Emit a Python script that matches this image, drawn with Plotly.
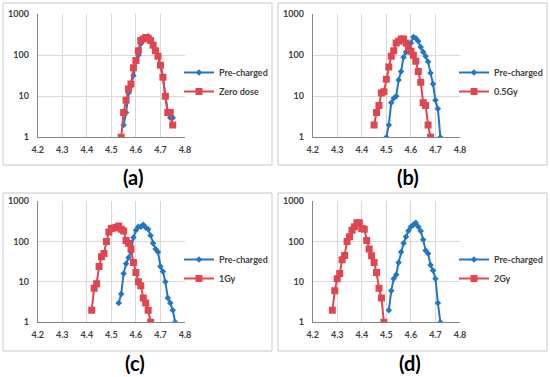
import plotly.graph_objects as go

# ---------------- data ----------------
# (a)
a_pre_x = [4.55, 4.56, 4.57, 4.58, 4.59, 4.60, 4.61, 4.62, 4.63, 4.64, 4.65, 4.66, 4.67, 4.68, 4.69, 4.70, 4.71, 4.72, 4.73, 4.74, 4.75]
a_pre_y = [2, 4, 12, 18, 32, 70, 100, 190, 240, 270, 290, 250, 180, 130, 95, 57, 30, 10, 4, 3, 3]
a_dose_x = [4.54, 4.55, 4.56, 4.57, 4.58, 4.59, 4.60, 4.61, 4.62, 4.63, 4.64, 4.65, 4.66, 4.67, 4.68, 4.69, 4.70, 4.71, 4.72, 4.73, 4.74, 4.75]
a_dose_y = [1, 4, 8, 15, 20, 50, 75, 130, 230, 250, 270, 260, 230, 175, 130, 95, 57, 29, 10, 4, 4, 2]
# (b)
b_pre_x = [4.50, 4.51, 4.52, 4.53, 4.54, 4.55, 4.56, 4.57, 4.58, 4.59, 4.60, 4.61, 4.62, 4.63, 4.64, 4.65, 4.66, 4.67, 4.68, 4.69, 4.70, 4.71, 4.72]
b_pre_y = [1, 2, 7, 9, 10, 25, 40, 90, 120, 130, 200, 280, 260, 220, 160, 120, 95, 70, 37, 20, 8, 5, 1]
b_dose_x = [4.45, 4.46, 4.47, 4.48, 4.49, 4.50, 4.51, 4.52, 4.53, 4.54, 4.55, 4.56, 4.57, 4.58, 4.59, 4.60, 4.61, 4.62, 4.63, 4.64, 4.65, 4.66, 4.67, 4.68]
b_dose_y = [2, 4, 6, 12, 13, 26, 52, 95, 130, 200, 220, 250, 250, 200, 150, 125, 100, 72, 40, 22, 7, 6, 2, 1]
# (c)
c_pre_x = [4.53, 4.54, 4.55, 4.56, 4.57, 4.58, 4.59, 4.60, 4.61, 4.62, 4.63, 4.64, 4.65, 4.66, 4.67, 4.68, 4.69, 4.70, 4.71, 4.72, 4.73, 4.74, 4.75, 4.76]
c_pre_y = [3, 5, 16, 28, 40, 55, 125, 190, 230, 230, 260, 220, 200, 140, 90, 65, 55, 24, 18, 10, 4, 3, 2, 1]
c_dose_x = [4.42, 4.43, 4.44, 4.45, 4.46, 4.47, 4.48, 4.49, 4.50, 4.51, 4.52, 4.53, 4.54, 4.55, 4.56, 4.57, 4.58, 4.59, 4.60, 4.61, 4.62, 4.63, 4.64, 4.65, 4.66]
c_dose_y = [2, 7, 9, 24, 42, 50, 100, 170, 210, 215, 220, 240, 200, 180, 105, 90, 65, 30, 17, 10, 8, 4, 3, 2, 1]
# (d)
d_pre_x = [4.51, 4.52, 4.53, 4.54, 4.55, 4.56, 4.57, 4.58, 4.59, 4.60, 4.61, 4.62, 4.63, 4.64, 4.65, 4.66, 4.67, 4.68, 4.69, 4.70, 4.71, 4.72]
d_pre_y = [2, 6, 12, 15, 30, 55, 90, 130, 185, 230, 260, 290, 230, 180, 110, 60, 50, 26, 19, 12, 3, 1]
d_dose_x = [4.28, 4.29, 4.30, 4.31, 4.32, 4.33, 4.34, 4.35, 4.36, 4.37, 4.38, 4.39, 4.40, 4.41, 4.42, 4.43, 4.44, 4.45, 4.46, 4.47, 4.48, 4.49]
d_dose_y = [2, 6, 12, 16, 35, 45, 100, 130, 190, 230, 290, 290, 210, 200, 105, 65, 44, 30, 17, 7, 4, 1]

panel_labels = ["(a)", "(b)", "(c)", "(d)"]
dose_names = ["Zero dose", "0.5Gy", "1Gy", "2Gy"]
pre_name = "Pre-charged"
x_ticks = [4.2, 4.3, 4.4, 4.5, 4.6, 4.7, 4.8]
y_ticks = [1, 10, 100, 1000]

panels = [
    (a_pre_x, a_pre_y, a_dose_x, a_dose_y),
    (b_pre_x, b_pre_y, b_dose_x, b_dose_y),
    (c_pre_x, c_pre_y, c_dose_x, c_dose_y),
    (d_pre_x, d_pre_y, d_dose_x, d_dose_y),
]

# ---------------- layout geometry ----------------
W, H = 550, 377
BLUE = "#2277C3"
RED = "#E04650"
FONT = "Lato"

x_doms = [(37.7, 185.0), (312.7, 460.0), (37.7, 185.0), (312.7, 460.0)]
y_doms = [(14.3, 137.3), (14.3, 137.3), (201.0, 322.3), (201.0, 322.3)]
boxes = [(3, 3, 272, 165), (278, 3, 547, 165), (3, 193, 272, 351), (278, 193, 547, 351)]
label_pos = [(133, 177), (408, 177), (135, 363), (410, 363)]
legend_pos = [(179, 82), (454, 82), (179, 269), (454, 269)]

fig = go.Figure()
layout = dict(
    width=W, height=H, margin=dict(l=0, r=0, t=0, b=0, autoexpand=False),
    paper_bgcolor="white", plot_bgcolor="white",
    font=dict(family=FONT, size=9, color="#404040"),
    shapes=[], annotations=[],
)

for i, (px, py, dx, dy) in enumerate(panels):
    n = i + 1
    xa = "x" if n == 1 else f"x{n}"
    ya = "y" if n == 1 else f"y{n}"
    lg = "legend" if n == 1 else f"legend{n}"
    fig.add_trace(go.Scatter(
        x=px, y=py, name=pre_name, mode="lines+markers", xaxis=xa, yaxis=ya, legend=lg,
        line=dict(color=BLUE, width=2), marker=dict(symbol="diamond", size=5, color=BLUE),
    ))
    fig.add_trace(go.Scatter(
        x=dx, y=dy, name=dose_names[i], mode="lines+markers", xaxis=xa, yaxis=ya, legend=lg,
        line=dict(color=RED, width=2), marker=dict(symbol="square", size=7, color=RED),
    ))
    x0, x1 = x_doms[i]
    y0, y1 = y_doms[i]
    layout["xaxis" if n == 1 else f"xaxis{n}"] = dict(
        domain=[x0 / W, x1 / W], range=[4.2, 4.8], anchor=ya, automargin=False,
        tickvals=x_ticks, ticktext=[f"{v:.1f}" for v in x_ticks],
        showgrid=True, gridcolor="#D9D9D9", gridwidth=1, zeroline=False,
        showline=True, linecolor="#868686", linewidth=1, ticks="",
        ticklabelstandoff=4,
        tickfont=dict(family=FONT, size=9, color="#404040", weight="bold"),
        fixedrange=True,
    )
    layout["yaxis" if n == 1 else f"yaxis{n}"] = dict(
        domain=[1 - y1 / H, 1 - y0 / H], type="log", range=[0, 3], anchor=xa, automargin=False,
        tickvals=y_ticks, ticktext=[str(v) for v in y_ticks],
        showgrid=True, gridcolor="#D9D9D9", gridwidth=1, zeroline=False,
        showline=True, linecolor="#868686", linewidth=1, ticks="",
        ticklabelstandoff=6,
        tickfont=dict(family=FONT, size=9, color="#404040", weight="bold"),
        fixedrange=True,
    )
    lx, ly = legend_pos[i]
    layout[lg] = dict(
        x=lx / W, y=1 - ly / H, xanchor="left", yanchor="middle",
        bgcolor="rgba(0,0,0,0)", itemwidth=30, tracegroupgap=0,
        font=dict(family=FONT, size=9, color="#404040", weight="bold"),
    )
    bx0, by0, bx1, by1 = boxes[i]
    layout["shapes"].append(dict(
        type="rect", xref="paper", yref="paper",
        x0=bx0 / W, x1=bx1 / W, y0=1 - by1 / H, y1=1 - by0 / H,
        line=dict(color="#C8C8C8", width=1), fillcolor="rgba(0,0,0,0)", layer="below",
    ))
    tx, ty = label_pos[i]
    layout["annotations"].append(dict(
        text=panel_labels[i], xref="paper", yref="paper", x=tx / W, y=1 - ty / H,
        showarrow=False, xanchor="center", yanchor="middle",
        font=dict(family=FONT, size=20, color="#000000", weight="bold"),
    ))

fig.update_layout(**layout)
fig.write_html(
    "out.html",
    config={"displayModeBar": False},
    post_script="document.body.style.margin='0';document.body.style.overflow='hidden';",
)
